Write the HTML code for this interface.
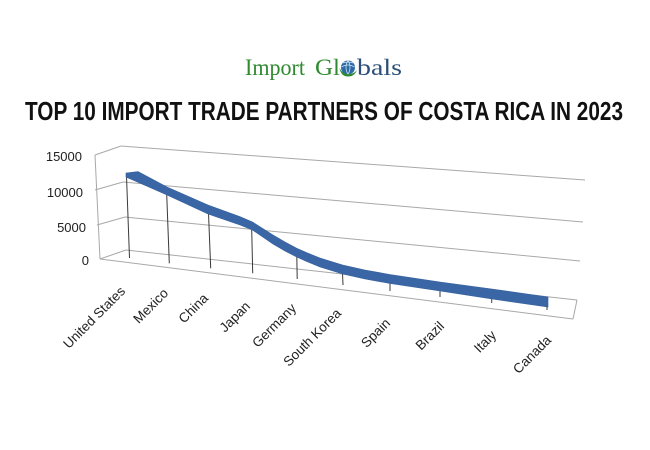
<!DOCTYPE html>
<html>
<head>
<meta charset="utf-8">
<style>
  html,body{margin:0;padding:0;background:#fff;}
  svg{display:block;}
</style>
</head>
<body>
<svg width="650" height="450" viewBox="0 0 650 450" xmlns="http://www.w3.org/2000/svg">
  <rect width="650" height="450" fill="#fff"/>

  <!-- Logo -->
  <text x="245" y="75" font-family="Liberation Serif, serif" font-size="23" fill="#2f8a2f" textLength="60" lengthAdjust="spacingAndGlyphs">Import</text>
  <text x="315" y="75" font-family="Liberation Serif, serif" font-size="23" fill="#2f8a2f" textLength="25" lengthAdjust="spacingAndGlyphs">Gl</text>
  <g>
    <circle cx="348" cy="67.5" r="7" fill="#2c6aa6"/>
    <path d="M341.5,67 Q348,63 354.5,67 M343,63 Q348,61 353,63 M348,60.5 Q344,67 348,74.5 M348,60.5 Q352,67 348,74.5" stroke="#cfe0f0" stroke-width="0.8" fill="none"/>
    <path d="M339.5,68 Q341,77 349,76.5 Q355,76 357,70 Q353,75 347,74 Q342,73 339.5,68 Z" fill="#2f8a2f"/>
  </g>
  <text x="357" y="75" font-family="Liberation Serif, serif" font-size="23" fill="#2b4f78" textLength="45" lengthAdjust="spacingAndGlyphs">bals</text>

  <!-- Title -->
  <text x="25" y="120" font-family="Liberation Sans, Arial, sans-serif" font-weight="bold" font-size="26" fill="#111" textLength="598" lengthAdjust="spacingAndGlyphs">TOP 10 IMPORT TRADE PARTNERS OF COSTA RICA IN 2023</text>

  <!-- Walls / gridlines -->
  <g stroke="#a8a8a8" stroke-width="1" fill="none">
    <!-- left axis -->
    <line x1="95" y1="155" x2="100" y2="259"/>
    <!-- side wall gridlines -->
    <line x1="95" y1="155" x2="121" y2="146"/>
    <line x1="95" y1="190" x2="123" y2="182"/>
    <line x1="97" y1="225" x2="125" y2="217"/>
    <line x1="100" y1="259" x2="126" y2="250"/>
    <!-- back wall gridlines -->
    <line x1="121" y1="146" x2="585" y2="180"/>
    <line x1="123" y1="182" x2="583" y2="222"/>
    <line x1="125" y1="217" x2="580" y2="261"/>
    <line x1="126" y1="250" x2="577" y2="300"/>
    <!-- floor -->
    <line x1="100" y1="259" x2="573" y2="319"/>
    <line x1="577" y1="300" x2="573" y2="319"/>
  </g>

  <!-- Drop lines -->
  <g stroke="#3a3a3a" stroke-width="1">
    <line x1="126.5" y1="176" x2="129.5" y2="258"/>
    <line x1="166.7" y1="194" x2="169.3" y2="263.3"/>
    <line x1="208.5" y1="213" x2="210.7" y2="268.3"/>
    <line x1="251.7" y1="229" x2="252.7" y2="273.3"/>
    <line x1="296.8" y1="256" x2="297.2" y2="279"/>
    <line x1="342.5" y1="273" x2="343" y2="285"/>
    <line x1="390" y1="282" x2="390" y2="291"/>
    <line x1="440" y1="290" x2="440" y2="297"/>
    <line x1="491.7" y1="298" x2="491.7" y2="303"/>
    <line x1="547" y1="298" x2="547" y2="310"/>
  </g>

  <!-- Data ribbon -->
  <path d="M126,173 L138,171.5 L152,179 L167,187 L208,205 L240,216.7 L252.5,222 L273,235 L285,242 L296.7,248.3 L306.7,252.7 L320,258 L342.7,265 L365,270 L390,274.5 L440,282 L492,289 L548,297
           L548,307 L492,299 L440,291 L390,283.5 L365,279 L342.7,274 L320,267 L306.7,261.5 L296.7,257 L285,251 L273,244 L252.5,230 L240,225 L208,214 L167,195 L126,177 Z"
        fill="#3a66a6" stroke="#34609c" stroke-width="0.6"/>

  <!-- Y axis labels -->
  <g font-family="Liberation Sans, Arial, sans-serif" font-size="13" fill="#222" text-anchor="end">
    <text x="82" y="161">15000</text>
    <text x="83" y="197">10000</text>
    <text x="86" y="232">5000</text>
    <text x="89" y="265">0</text>
  </g>

  <!-- X axis labels -->
  <g font-family="Liberation Sans, Arial, sans-serif" font-size="13.5" fill="#222" text-anchor="end">
    <text transform="translate(126,292) rotate(-45)">United States</text>
    <text transform="translate(169,294) rotate(-45)">Mexico</text>
    <text transform="translate(209,299) rotate(-45)">China</text>
    <text transform="translate(251,307) rotate(-45)">Japan</text>
    <text transform="translate(297,309) rotate(-45)">Germany</text>
    <text transform="translate(342,314) rotate(-45)">South Korea</text>
    <text transform="translate(391,324) rotate(-45)">Spain</text>
    <text transform="translate(445,327) rotate(-45)">Brazil</text>
    <text transform="translate(497,336) rotate(-45)">Italy</text>
    <text transform="translate(552,341) rotate(-45)">Canada</text>
  </g>
</svg>
</body>
</html>
